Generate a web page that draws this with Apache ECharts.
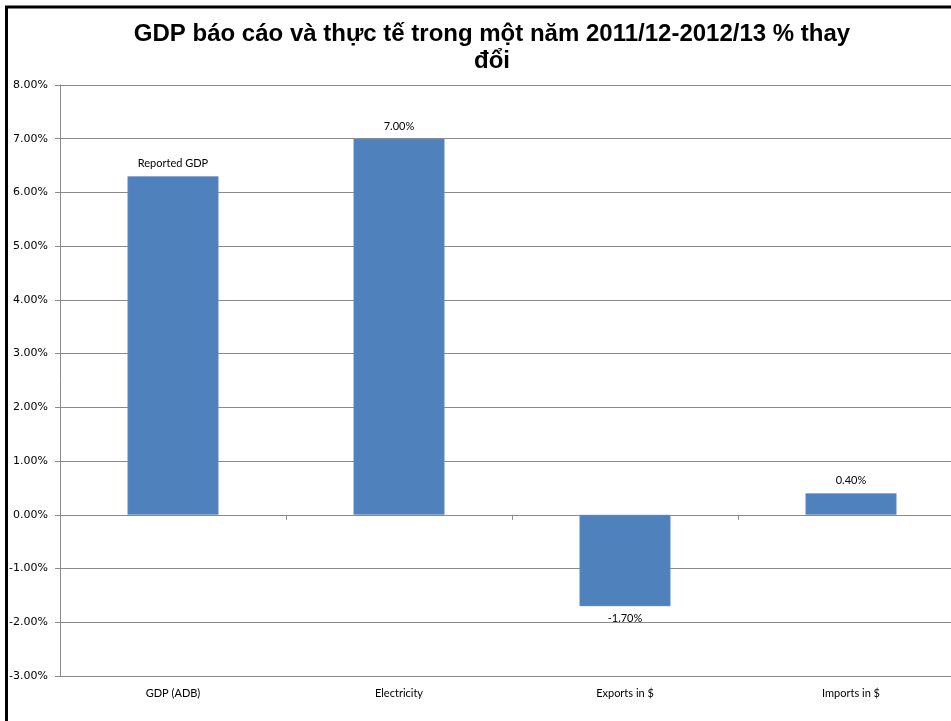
<!DOCTYPE html>
<html>
<head>
<meta charset="utf-8">
<script src="https://cdn.jsdelivr.net/npm/echarts@6/dist/echarts.min.js"></script>
<style>
html,body{margin:0;padding:0;background:#fff;}
#chart{width:951px;height:721px;}
</style>
</head>
<body>
<div id="chart"></div>
<script>
// Data
const titleText = 'GDP báo cáo và thực tế trong một năm 2011/12-2012/13 % thay\nđổi';
const categories = ['GDP (ADB)', 'Electricity', 'Exports in $', 'Imports in $'];
const values = [6.3, 7.0, -1.7, 0.4];
const labelTexts = ['Reported GDP', '7.00%', '-1.70%', '0.40%'];
const yMin = -3, yMax = 8, yStep = 1;

const chart = echarts.init(document.getElementById('chart'));
const gridColor = '#8a8a8a';
const labelFont = 'Lato, "Open Sans", sans-serif';

chart.setOption({
  animation: false,
  backgroundColor: '#fff',
  title: {
    text: titleText,
    left: 487,
    textAlign: 'center',
    top: 16,
    textStyle: {
      fontFamily: '"Liberation Sans", Arial, sans-serif',
      fontWeight: 'bold',
      fontSize: 24,
      lineHeight: 27,
      color: '#000'
    }
  },
  graphic: [{
    type: 'rect',
    shape: { x: 6.5, y: 7, width: 1200, height: 1200 },
    style: { fill: 'none', stroke: '#000', lineWidth: 3 },
    silent: true,
    z: 100
  }],
  grid: { left: 60, top: 85, width: 904, height: 591, containLabel: false, outerBoundsMode: 'none' },
  xAxis: [{
    type: 'category',
    data: categories,
    position: 'bottom',
    axisLine: { show: false, onZero: false },
    axisTick: { show: false },
    axisLabel: {
      margin: 12,
      fontFamily: labelFont,
      fontSize: 11,
      color: '#000'
    },
    splitLine: { show: false }
  }, {
    type: 'category',
    data: categories,
    position: 'top',
    axisLine: { show: true, onZero: true, lineStyle: { color: gridColor, width: 1 } },
    axisTick: { show: true, inside: true, length: 5, lineStyle: { color: gridColor } },
    axisLabel: { show: false },
    splitLine: { show: false }
  }],
  yAxis: {
    type: 'value',
    min: yMin,
    max: yMax,
    interval: yStep,
    axisLine: { show: true, lineStyle: { color: gridColor } },
    axisTick: { show: true, length: 5, lineStyle: { color: gridColor } },
    axisLabel: {
      margin: 12,
      fontFamily: '"DejaVu Sans", sans-serif',
      fontSize: 11,
      color: '#000',
      formatter: v => v.toFixed(2) + '%'
    },
    splitLine: { show: true, lineStyle: { color: gridColor, width: 1 } }
  },
  series: [{
    type: 'bar',
    xAxisIndex: 0,
    barWidth: 91,
    data: values.map((v, i) => ({
      value: v,
      label: { position: v < 0 ? 'bottom' : 'top' }
    })),
    itemStyle: { color: '#4F81BD', borderColor: '#7096c8', borderWidth: 0.5 },
    label: {
      show: true,
      distance: 7,
      fontFamily: labelFont,
      fontSize: 11,
      color: '#000',
      formatter: p => labelTexts[p.dataIndex]
    }
  }]
});
</script>
</body>
</html>
